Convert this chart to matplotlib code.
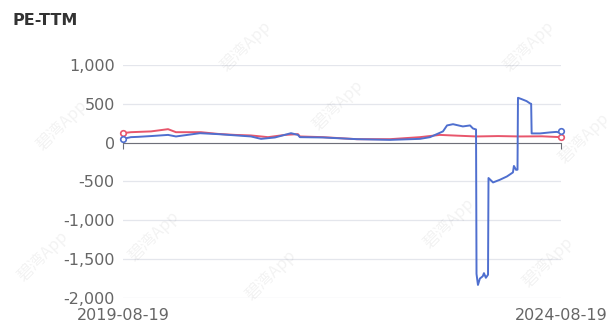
import numpy as np
import pandas as pd
import matplotlib
matplotlib.use('Agg')
import matplotlib.pyplot as plt
import matplotlib.ticker as mticker

# Serie azul (PE-TTM)
blue_dates = ["2019-08-19", "2019-09-21", "2019-10-21", "2019-12-14", "2020-02-23",
              "2020-03-27", "2020-07-05", "2020-09-18", "2021-02-03", "2021-03-17",
              "2021-05-14", "2021-07-20", "2021-08-18", "2021-08-26", "2021-11-30",
              "2022-04-21", "2022-09-06", "2023-01-09", "2023-02-20", "2023-04-15",
              "2023-05-02", "2023-05-27", "2023-07-07", "2023-08-06", "2023-08-18",
              "2023-08-31", "2023-09-02", "2023-09-08", "2023-09-16", "2023-09-28",
              "2023-10-03", "2023-10-11", "2023-10-20", "2023-10-22", "2023-11-10",
              "2023-12-09", "2024-01-07", "2024-02-01", "2024-02-05", "2024-02-14",
              "2024-02-20", "2024-02-22", "2024-03-08", "2024-03-29", "2024-04-12",
              "2024-04-17", "2024-04-19", "2024-05-24", "2024-07-04", "2024-08-01",
              "2024-08-10", "2024-08-19"]
blue_values = [49, 71, 75, 85, 100,
               80, 122, 110, 80, 49,
               67, 122, 100, 71, 67,
               45, 36, 49, 71, 145,
               222, 238, 209, 222, 183,
               170, -1690, -1832, -1750, -1720,
               -1680, -1740, -1700, -455, -512,
               -477, -435, -383, -300, -350,
               -348, 578, 561, 535, 506,
               500, 119, 119, 132, 139,
               132, 148]

# Serie roja
red_dates = ["2019-08-19", "2019-09-21", "2019-12-14", "2020-02-23", "2020-03-27",
             "2020-07-09", "2020-09-18", "2020-11-28", "2021-02-03", "2021-04-15",
             "2021-06-25", "2021-08-18", "2021-08-26", "2021-11-30", "2022-04-21",
             "2022-09-06", "2023-01-09", "2023-04-02", "2023-06-15", "2023-09-01",
             "2023-12-01", "2024-03-01", "2024-06-01", "2024-08-19"]
red_values = [123, 135, 145, 174, 135,
              135, 113, 100, 93, 71,
              100, 110, 80, 71, 45,
              45, 71, 100, 90, 80,
              85, 80, 82, 71]

y_ticks = [1000, 500, 0, -500, -1000, -1500, -2000]
x_labels = ["2019-08-19", "2024-08-19"]

blue_x = pd.to_datetime(blue_dates)
red_x = pd.to_datetime(red_dates)

fig = plt.figure(figsize=(6.15, 3.28), dpi=100)
ax = fig.add_axes([0.2, 0.0915, 0.712, 0.7103])

ax.plot(blue_x, blue_values, color='#4f6fcf', linewidth=1.4,
        marker='o', markevery=[0, -1], markersize=4, clip_on=False,
        markerfacecolor='white', markeredgewidth=1.2, zorder=3)
ax.plot(red_x, red_values, color='#e8566c', linewidth=1.4,
        marker='o', markevery=[0, -1], markersize=4, clip_on=False,
        markerfacecolor='white', markeredgewidth=1.2, zorder=2)

ax.set_xlim(pd.Timestamp(x_labels[0]), pd.Timestamp(x_labels[1]))
ax.set_ylim(-2000, 1000)
ax.set_yticks(y_ticks)
ax.yaxis.set_major_formatter(mticker.FuncFormatter(lambda v, p: f"{v:,.0f}"))
ax.tick_params(axis='y', length=0, pad=6, labelsize=11.5, labelcolor='#666666')
ax.grid(axis='y', color='#e4e6ec', linewidth=0.9)
ax.set_axisbelow(True)

for s in ['top', 'right', 'left']:
    ax.spines[s].set_visible(False)
ax.spines['bottom'].set_position(('data', 0))
ax.spines['bottom'].set_color('#6e7079')
ax.spines['bottom'].set_zorder(1)
ax.set_xticks(pd.to_datetime(x_labels))
ax.tick_params(axis='x', length=4, color='#6e7079', labelbottom=False)

for lbl in x_labels:
    ax.text(pd.Timestamp(lbl), -0.075, lbl, transform=ax.get_xaxis_transform(),
            ha='center', va='center', fontsize=11.5, color='#666666')

fig.text(0.021, 0.938, "PE-TTM", fontsize=11.5, fontweight='bold',
         color='#333333', ha='left', va='center')

# Marcas de agua
wm = [(0.10, 0.62), (0.40, 0.86), (0.55, 0.68), (0.86, 0.86), (0.95, 0.58),
      (0.25, 0.28), (0.44, 0.16), (0.73, 0.32), (0.89, 0.20), (0.07, 0.22)]
for (wx, wy) in wm:
    fig.text(wx, wy, "碧湾App", fontsize=12, rotation=45, color='#000000',
             alpha=0.05, ha='center', va='center',
             family=['Noto Sans CJK SC', 'DejaVu Sans'])

fig.savefig("out.png", dpi=100)
